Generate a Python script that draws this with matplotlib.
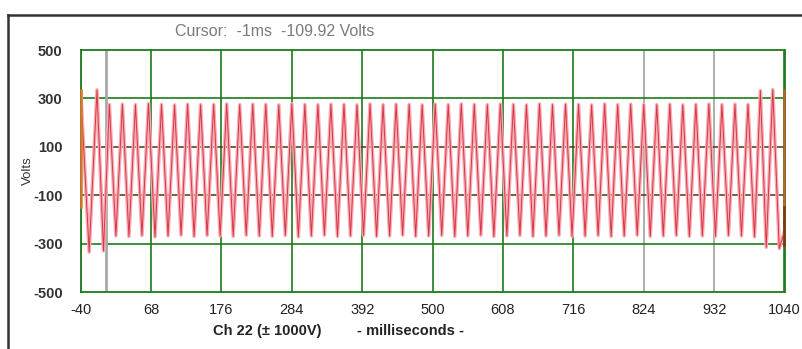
import matplotlib
matplotlib.use("Agg")
import matplotlib.pyplot as plt
from matplotlib.lines import Line2D

# ---- data ----
x_ticks = [-40, 68, 176, 284, 392, 500, 608, 716, 824, 932, 1040]
y_ticks = [-500, -300, -100, 100, 300, 500]
cursor_ms = -1
extra_cursors_ms = [824, 932]

# extremes of the waveform (time in ms, volts)
ext_ms = [-40, -27, -15, -5,
          4, 14, 24, 34, 44, 54, 64, 74, 84, 94,
          104, 114, 124, 134, 144, 154, 164, 174, 184, 194,
          204, 214, 224, 234, 244, 254, 264, 274, 284, 294,
          304, 314, 324, 334, 344, 354, 364, 374, 384, 394,
          404, 414, 424, 434, 444, 454, 464, 474, 484, 494,
          504, 514, 524, 534, 544, 554, 564, 574, 584, 594,
          604, 614, 624, 634, 644, 654, 664, 674, 684, 694,
          704, 714, 724, 734, 744, 754, 764, 774, 784, 794,
          804, 814, 824, 834, 844, 854, 864, 874, 884, 894,
          904, 914, 924, 934, 944, 954, 964, 974, 984, 994,
          1003, 1012, 1022, 1032, 1040]
ext_v = [330, -335, 335, -330,
         275, -268, 276, -270, 274, -266, 278, -272, 275, -268,
         273, -265, 276, -270, 274, -266, 275, -268, 277, -270,
         274, -265, 276, -268, 275, -270, 273, -266, 278, -272,
         275, -268, 274, -265, 276, -270, 275, -268, 273, -266,
         277, -270, 274, -268, 276, -265, 275, -270, 273, -268,
         276, -266, 274, -270, 277, -268, 275, -265, 274, -270,
         276, -268, 275, -266, 273, -270, 277, -268, 274, -265,
         276, -270, 275, -268, 273, -266, 277, -270, 274, -268,
         276, -265, 275, -270, 274, -268, 276, -266, 273, -270,
         275, -268, 277, -270, 274, -266, 276, -268, 275, -272,
         332, -315, 336, -320, -250]

left_edge_span = (-150, 335)
right_edge_span = (-305, 335)

# ---- figure ----
W, H = 803, 349
fig = plt.figure(figsize=(W / 100, H / 100), dpi=100)
fig.patch.set_facecolor("white")

L, R, T, B = 80.7, 784.5, 50, 292
ax = fig.add_axes([L / W, 1 - B / H, (R - L) / W, (B - T) / H])
ax.set_xlim(-40, 1040)
ax.set_ylim(-500, 500)

green = "#1e7a1e"
brown = "#4a3518"

# grid
for xv in x_ticks:
    col = "#9aa59a" if xv in extra_cursors_ms else green
    ax.axvline(xv, color=col, lw=1.2, zorder=1)
for yv in [-300, 300]:
    ax.axhline(yv, color=green, lw=1.2, zorder=1)
for yv in [-100, 100]:
    ax.axhline(yv, color=brown, lw=1.1, zorder=1)
ax.axvline(cursor_ms, color="#a8a8a8", lw=2.0, zorder=1)

# waveform
ax.plot(ext_ms, ext_v, color="#f7adb5", lw=2.6, zorder=2, solid_joinstyle="round")
ax.plot(ext_ms, ext_v, color="#d0182a", lw=0.7, alpha=0.8, zorder=3,
        solid_joinstyle="round")

# edge markers
ax.plot([-40, -40], left_edge_span, color="#d8782a", lw=1.8, zorder=4, clip_on=False)
ax.plot([1040, 1040], right_edge_span, color="#b8642a", lw=1.8, zorder=4, clip_on=False)
ax.plot([1040, 1040], [-305, -150], color="#7a3a10", lw=1.8, zorder=4, clip_on=False)

for s in ax.spines.values():
    s.set_color(green)
    s.set_linewidth(1.3)

fam = ["Liberation Sans", "DejaVu Sans"]
ax.set_xticks(x_ticks)
ax.set_yticks(y_ticks)
ax.set_xticklabels([str(v) for v in x_ticks], fontfamily=fam, fontsize=10.5, color="#222222")
ax.set_yticklabels([str(v) for v in y_ticks], fontfamily=fam, fontsize=10.5,
                   color="#333333", fontweight="bold")
ax.tick_params(axis="x", length=0, pad=8)
ax.tick_params(axis="y", length=0, pad=13)
ax.set_ylabel("Volts", fontfamily=fam, fontsize=9.5, color="#333333", labelpad=-1)

fig.text(175 / W, 1 - 31 / H, "Cursor:  -1ms  -109.92 Volts", fontfamily=fam,
         fontsize=11.5, color="#7a7a7a", va="center", ha="left")
fig.text(213 / W, 1 - 331 / H, "Ch 22 (\u00b1 1000V)", fontfamily=fam,
         fontsize=10.5, color="#222222", fontweight="bold", va="center", ha="left")
fig.text(357 / W, 1 - 331 / H, "- milliseconds -", fontfamily=fam,
         fontsize=10.5, color="#222222", fontweight="bold", va="center", ha="left")

# outer frame
fig.add_artist(Line2D([8 / W, 1.0], [1 - 15 / H, 1 - 15 / H], color="#333333", lw=1.8,
                      transform=fig.transFigure))
fig.add_artist(Line2D([8 / W, 8 / W], [1 - 15 / H, 0], color="#333333", lw=1.8,
                      transform=fig.transFigure))

fig.savefig("out.png", dpi=100)
